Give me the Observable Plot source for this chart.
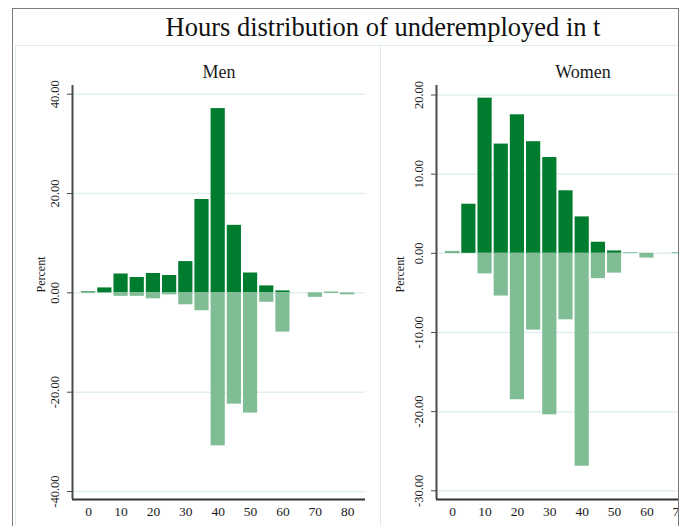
<!DOCTYPE html>
<html><head><meta charset="utf-8">
<script src="https://cdn.jsdelivr.net/npm/d3@7"></script>
<script src="https://cdn.jsdelivr.net/npm/@observablehq/plot@0.6"></script>
<style>
html,body{margin:0;padding:0;background:#fff;}
#page{position:relative;width:683px;height:526px;overflow:hidden;background:#fff;font-family:"Liberation Serif","Times New Roman",serif;}
#clip{position:absolute;left:0;top:0;width:679px;height:526px;overflow:hidden;}
#frame{position:absolute;left:12px;top:8px;width:667px;height:600px;border:1.5px solid #7a7a7a;box-sizing:border-box;}
#title{position:absolute;left:0;width:766px;top:14px;text-align:center;font-size:26.5px;line-height:1;color:#111;white-space:nowrap;}
.panel{position:absolute;top:45px;border:1px solid #dcebeb;box-sizing:border-box;height:600px;}
.plot{position:absolute;top:45px;width:420px;}
.plot svg{max-width:none !important;}
</style></head>
<body>
<div id="page">
  <div id="clip">
    <div class="panel" style="left:15px;width:366px;"></div>
    <div class="panel" style="left:380px;width:400px;"></div>
    <div id="title">Hours distribution of underemployed in t</div>
    <div id="men" class="plot" style="left:15px;"></div>
    <div id="women" class="plot" style="left:380px;"></div>
  </div>
  <div id="frame"></div>
</div>
<script>
// Hour bins (bar centres)
const hours = [0, 5, 10, 15, 20, 25, 30, 35, 40, 45, 50, 55, 60, 65, 70, 75, 80];
const xTickValues = [0, 10, 20, 30, 40, 50, 60, 70, 80];

// Men: upper (dark) and lower (light, mirrored) series, percent
const menUpper = [0.2, 1.0, 3.8, 3.1, 3.9, 3.5, 6.3, 18.8, 37.1, 13.6, 4.0, 1.4, 0.4, 0, 0, 0.1, 0];
const menLower = [0.1, 0, -0.7, -0.7, -1.2, -0.4, -2.4, -3.6, -30.8, -22.4, -24.2, -1.9, -7.9, 0, -0.9, 0.15, -0.4];
const menYTicks = [-40, -20, 0, 20, 40];

// Women
const womenUpper = [0.2, 6.2, 19.6, 13.8, 17.5, 14.1, 12.1, 7.9, 4.6, 1.4, 0.3, 0.05, 0, 0, 0.05, 0, 0];
const womenLower = [0.25, 0, -2.6, -5.4, -18.5, -9.7, -20.4, -8.4, -26.9, -3.2, -2.5, 0, -0.6, 0, -0.05, 0, 0];
const womenYTicks = [-30, -20, -10, 0, 10, 20];

const panelTitles = ["Men", "Women"];
const yLabel = "Percent";

function panel({title, upper, lower, yDomain, yTicks, marginLeft, labelDx}) {
  const rows = hours.map((h, i) => ({h, v: upper[i], s: "upper"}))
    .concat(hours.map((h, i) => ({h, v: lower[i], s: "lower"})));
  return Plot.plot({
    width: marginLeft + 293 + 15,
    height: 481,
    marginLeft, marginRight: 15, marginTop: 40, marginBottom: 27,
    style: {fontFamily: "'Liberation Serif', 'Times New Roman', serif", fontSize: "12.5px", color: "#1a1a1a", background: "transparent", overflow: "visible", maxWidth: "none"},
    x: {domain: [-5, 85.5]},
    y: {domain: yDomain},
    color: {domain: ["upper", "lower"], range: ["#007c2e", "#80bd95"]},
    marks: [
      Plot.gridY(yTicks, {stroke: "#e2efef", strokeOpacity: 1, strokeWidth: 1.5}),
      Plot.rectY(rows, {x1: d => d.h - 2.5, x2: d => d.h + 2.5, y1: 0, y2: "v", fill: "s", insetLeft: 1, insetRight: 1}),
      Plot.ruleX([-5], {stroke: "#4a4a4a", strokeWidth: 2}),
      Plot.ruleY([yDomain[0]], {stroke: "#333", strokeWidth: 2}),
      Plot.axisY(yTicks, {tickSize: 5, tickRotate: -90, tickPadding: 9, tickFormat: d => d.toFixed(2), label: null, stroke: "#4a4a4a"}),
      Plot.axisX(xTickValues, {tickSize: 0, tickPadding: 6.5, label: null, fontSize: 13.5}),
      Plot.text([title], {frameAnchor: "top", dy: -8, lineAnchor: "bottom", fontSize: 18}),
      Plot.text([yLabel], {frameAnchor: "left", dx: -labelDx, rotate: -90, fontSize: 12})
    ]
  });
}

document.getElementById("men").append(panel({
  title: panelTitles[0], upper: menUpper, lower: menLower,
  yDomain: [-41.6, 41.75], yTicks: menYTicks, marginLeft: 57, labelDx: 31
}));
document.getElementById("women").append(panel({
  title: panelTitles[1], upper: womenUpper, lower: womenLower,
  yDomain: [-31.1, 21.2], yTicks: womenYTicks, marginLeft: 56, labelDx: 36
}));
</script>
</body></html>
